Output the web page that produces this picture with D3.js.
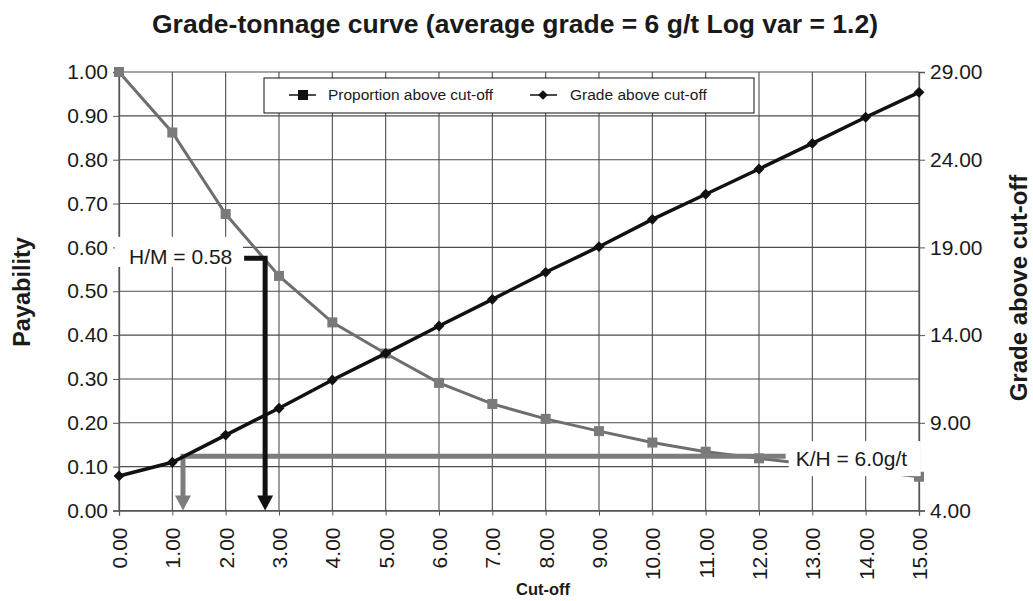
<!DOCTYPE html>
<html><head><meta charset="utf-8">
<script src="https://cdn.jsdelivr.net/npm/d3@7"></script>
<style>
body{margin:0;background:#fff;}
text{font-family:"Liberation Sans",Arial,Helvetica,sans-serif;fill:#1a1a1a;}
</style></head>
<body><svg id="c" width="1033" height="601"></svg>
<script>
const cutoffs = [0,1,2,3,4,5,6,7,8,9,10,11,12,13,14,15];
const proportionAbove = [1.00,0.862,0.676,0.535,0.429,0.358,0.291,0.243,0.209,0.181,0.155,0.134,0.119,0.105,0.092,0.077];
const gradeAbove = [5.97,6.75,8.30,9.83,11.44,12.96,14.52,16.04,17.58,19.04,20.60,22.03,23.47,24.93,26.42,27.84];
const leftTicks = [0,0.1,0.2,0.3,0.4,0.5,0.6,0.7,0.8,0.9,1.0];
const rightTicks = [4,9,14,19,24,29];
const seriesNames = ["Proportion above cut-off","Grade above cut-off"];
const hmNote = {label:"H/M = 0.58", cutoff:2.74, level:0.575};
const khNote = {label:"K/H = 6.0g/t", cutoff:1.2, level:0.124, end:12.5};

const W=1033,H=601, L=119,R=919,T=72,B=510.5;
const svg=d3.select("#c");
const x=d3.scaleLinear().domain([0,15]).range([L,R]);
const y=d3.scaleLinear().domain([0,1]).range([B,T]);
const y2=d3.scaleLinear().domain([4,29]).range([B,T]);

// grid
const g=svg.append("g");
g.selectAll(".vg").data(cutoffs).join("line").attr("x1",d=>x(d)).attr("x2",d=>x(d)).attr("y1",T).attr("y2",B)
 .attr("stroke","#4d4d4d").attr("stroke-width",1.1);
g.selectAll(".hg").data(leftTicks).join("line").attr("x1",L).attr("x2",R).attr("y1",d=>y(d)).attr("y2",d=>y(d))
 .attr("stroke","#4d4d4d").attr("stroke-width",1.1);

// axes
const ax=svg.append("g").attr("transform",`translate(${L},0)`)
 .call(d3.axisLeft(y).tickValues(leftTicks).tickFormat(d3.format(".2f")).tickSize(6).tickPadding(5));
const ax2=svg.append("g").attr("transform",`translate(${R},0)`)
 .call(d3.axisRight(y2).tickValues(rightTicks).tickFormat(d3.format(".2f")).tickSize(6).tickPadding(5));
const axb=svg.append("g").attr("transform",`translate(0,${B})`)
 .call(d3.axisBottom(x).tickValues(cutoffs).tickFormat(d3.format(".2f")).tickSize(5));
[ax,ax2,axb].forEach(a=>{a.select(".domain").attr("stroke","#555").attr("stroke-width",1.3);
 a.selectAll(".tick line").attr("stroke","#555");
 a.selectAll("text").style("font-size","21px").attr("fill","#1a1a1a");});
axb.selectAll(".tick text").attr("transform","rotate(-90)").attr("text-anchor","end")
 .attr("x",-17).attr("y",0).attr("dy","0.36em");

// lines
const propPts=cutoffs.map((c,i)=>[x(c),y(proportionAbove[i])]);
const gradePts=cutoffs.map((c,i)=>[x(c),y2(gradeAbove[i])]);
svg.append("path").attr("d",d3.line()(propPts)).attr("fill","none").attr("stroke","#6e6e6e").attr("stroke-width",3);
svg.selectAll(".pm").data(propPts).join("rect").attr("x",d=>d[0]-5).attr("y",d=>d[1]-5).attr("width",10).attr("height",10)
 .attr("fill","#7a7a7a");

// K/H annotation
const grey="#7d7d7d";
svg.append("path").attr("d",d3.line()([[x(khNote.end),y(khNote.level)],[x(khNote.cutoff),y(khNote.level)],[x(khNote.cutoff),B-13]]))
 .attr("fill","none").attr("stroke",grey).attr("stroke-width",5);
svg.append("path").attr("d",d3.line()([[x(khNote.cutoff)-8,B-15],[x(khNote.cutoff)+8,B-15],[x(khNote.cutoff),B]])+"Z").attr("fill",grey);

svg.append("path").attr("d",d3.line()(gradePts)).attr("fill","none").attr("stroke","#111").attr("stroke-width",3.5);
svg.selectAll(".gm").data(gradePts).join("path").attr("transform",d=>`translate(${d[0]},${d[1]})`)
 .attr("d",d3.symbol(d3.symbolDiamond2,75)).attr("fill","#111");

// H/M annotation
const hx=x(hmNote.cutoff), hy=y(hmNote.level);
svg.append("rect").attr("x",115).attr("y",hy-21.5).attr("width",128).attr("height",30).attr("fill","#fff");
svg.append("text").attr("x",129).attr("y",hy+6).style("font-size","21px").text(hmNote.label);
svg.append("path").attr("d",d3.line()([[hx-21,hy],[hx,hy],[hx,B-13]])).attr("fill","none").attr("stroke","#111").attr("stroke-width",5);
svg.append("path").attr("d",d3.line()([[hx-8,B-15],[hx+8,B-15],[hx,B]])+"Z").attr("fill","#111");

// K/H label box
const ky=y(khNote.level);
svg.append("rect").attr("x",x(khNote.end)+3).attr("y",ky-15).attr("width",132).attr("height",35).attr("fill","#fff");
svg.append("text").attr("x",x(khNote.end)+10).attr("y",ky+10).style("font-size","21px").text(khNote.label);

// legend
const lg=svg.append("g");
lg.append("rect").attr("x",264).attr("y",78).attr("width",490).attr("height",35).attr("fill","#fff").attr("stroke","#111").attr("stroke-width",1);
lg.append("line").attr("x1",289).attr("x2",316).attr("y1",95).attr("y2",95).attr("stroke","#111").attr("stroke-width",1.5);
lg.append("rect").attr("x",298).attr("y",90).attr("width",10).attr("height",10).attr("fill","#111");
lg.append("text").attr("x",328).attr("y",100).style("font-size","15.5px").text(seriesNames[0]);
lg.append("line").attr("x1",530).attr("x2",557).attr("y1",95).attr("y2",95).attr("stroke","#111").attr("stroke-width",1.5);
lg.append("path").attr("transform","translate(543,95)").attr("d",d3.symbol(d3.symbolDiamond2,60)).attr("fill","#111");
lg.append("text").attr("x",570).attr("y",100).style("font-size","15.5px").text(seriesNames[1]);

// titles
svg.append("text").attr("x",515).attr("y",33).attr("text-anchor","middle").style("font-size","26.5px").style("font-weight","bold")
 .text("Grade-tonnage curve (average grade = 6 g/t Log var = 1.2)");
svg.append("text").attr("transform","translate(30,292) rotate(-90)").attr("text-anchor","middle").style("font-size","23.5px").style("font-weight","bold").text("Payability");
svg.append("text").attr("transform","translate(1027,288) rotate(-90)").attr("text-anchor","middle").style("font-size","24px").style("font-weight","bold").text("Grade above cut-off");
svg.append("text").attr("x",543).attr("y",595).attr("text-anchor","middle").style("font-size","16.5px").style("font-weight","bold").text("Cut-off");
</script></body></html>
